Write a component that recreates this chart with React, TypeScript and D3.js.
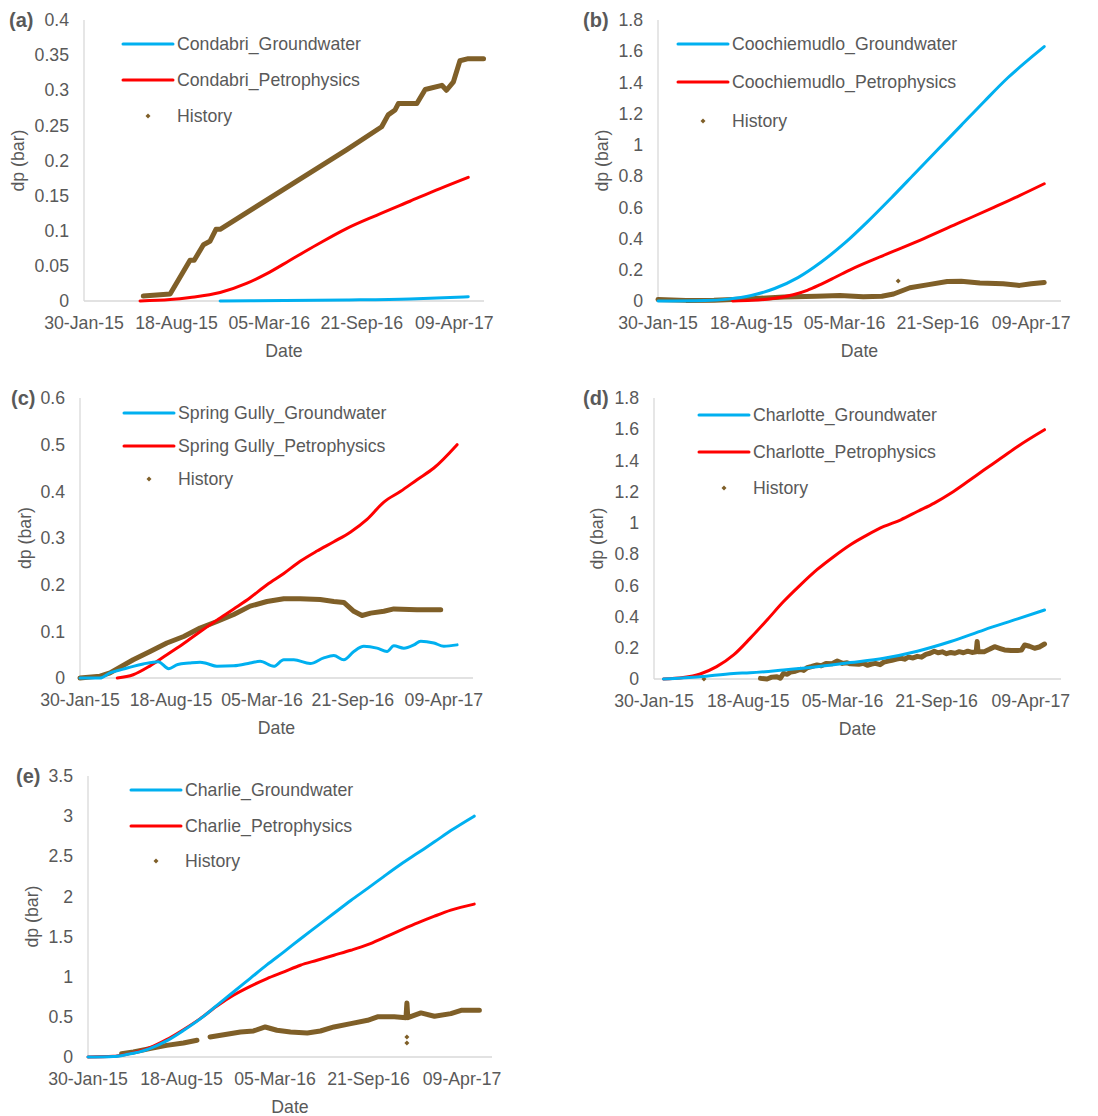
import React from "react";
import * as d3 from "d3";

type P = [number, number]; // [days since 30-Jan-15, dp (bar)]

const START_DATE = "2015-01-30";
const AXIS_DAYS = 864;
const TICK_DAYS = [0, 200, 400, 600, 800];

// (a) Condabri
const condabriGroundwater: P[] = [[294, 0], [567, 0.0015], [704, 0.003], [830, 0.006]];
const condabriPetrophysics: P[] = [[121, 0], [186, 0.002], [229, 0.005], [294, 0.012], [351, 0.025], [395, 0.039], [445, 0.058], [503, 0.08], [567, 0.103], [632, 0.122], [704, 0.142], [769, 0.16], [830, 0.176]];
const condabriHistory: P[] = [[128, 0.007], [186, 0.01], [229, 0.058], [238, 0.058], [258, 0.08], [272, 0.085], [285, 0.102], [294, 0.102], [567, 0.215], [643, 0.248], [657, 0.265], [672, 0.272], [679, 0.281], [719, 0.281], [737, 0.301], [773, 0.307], [783, 0.3], [798, 0.312], [812, 0.342], [830, 0.345], [863, 0.345]];

// (b) Coochiemudlo
const coochiemudloGroundwater: P[] = [[0, 0], [100, 0.003], [150, 0.012], [200, 0.035], [250, 0.08], [300, 0.15], [350, 0.25], [400, 0.37], [450, 0.51], [500, 0.66], [550, 0.815], [600, 0.97], [650, 1.125], [700, 1.28], [750, 1.43], [800, 1.56], [828, 1.63]];
const coochiemudloPetrophysics: P[] = [[160, 0], [200, 0.004], [250, 0.017], [290, 0.04], [320, 0.068], [348, 0.105], [380, 0.152], [412, 0.2], [490, 0.3], [570, 0.4], [645, 0.5], [720, 0.6], [775, 0.675], [828, 0.751]];
const coochiemudloHistory: P[] = [[0, 0.01], [60, 0.004], [120, 0.005], [200, 0.015], [270, 0.025], [340, 0.03], [390, 0.035], [440, 0.028], [480, 0.03], [505, 0.045], [540, 0.085], [580, 0.105], [620, 0.125], [650, 0.127], [690, 0.115], [740, 0.11], [775, 0.1], [800, 0.11], [828, 0.118]];
const coochiemudloOutliers: P[] = [[515, 0.128]];

// (c) Spring Gully
const springGullyGroundwater: P[] = [[0, 0], [44, 0], [66, 0.011], [95, 0.019], [117, 0.025], [139, 0.03], [172, 0.035], [195, 0.02], [215, 0.029], [240, 0.032], [264, 0.034], [279, 0.031], [301, 0.025], [338, 0.026], [374, 0.032], [396, 0.036], [426, 0.025], [448, 0.039], [470, 0.039], [506, 0.031], [536, 0.043], [558, 0.048], [580, 0.039], [602, 0.057], [624, 0.068], [653, 0.064], [675, 0.057], [690, 0.069], [712, 0.064], [734, 0.071], [749, 0.079], [778, 0.075], [800, 0.068], [829, 0.071]];
const springGullyPetrophysics: P[] = [[82, 0], [117, 0.007], [154, 0.026], [191, 0.05], [228, 0.074], [264, 0.099], [301, 0.124], [338, 0.148], [374, 0.172], [411, 0.2], [448, 0.224], [484, 0.25], [521, 0.272], [558, 0.292], [595, 0.313], [631, 0.34], [668, 0.377], [705, 0.4], [741, 0.425], [778, 0.45], [829, 0.5]];
const springGullyHistory: P[] = [[0, 0], [44, 0.004], [66, 0.011], [117, 0.039], [154, 0.057], [191, 0.075], [228, 0.089], [264, 0.107], [301, 0.121], [338, 0.136], [374, 0.154], [411, 0.164], [448, 0.17], [484, 0.17], [528, 0.168], [558, 0.164], [580, 0.162], [602, 0.143], [620, 0.134], [639, 0.139], [668, 0.143], [690, 0.148], [741, 0.146], [793, 0.146]];

// (d) Charlotte
const charlotteGroundwater: P[] = [[20, 0], [98, 0.015], [169, 0.036], [204, 0.04], [275, 0.058], [346, 0.079], [417, 0.105], [488, 0.133], [559, 0.178], [630, 0.24], [701, 0.315], [772, 0.385], [829, 0.442]];
const charlottePetrophysics: P[] = [[20, 0], [62, 0.009], [98, 0.032], [133, 0.079], [169, 0.154], [204, 0.26], [240, 0.378], [275, 0.496], [311, 0.603], [346, 0.7], [382, 0.785], [417, 0.86], [453, 0.923], [488, 0.977], [524, 1.02], [559, 1.073], [595, 1.127], [630, 1.19], [666, 1.265], [701, 1.34], [737, 1.415], [772, 1.49], [829, 1.597]];
const charlotteHistory: P[] = [[226, 0.004], [240, 0.0], [250, 0.012], [261, 0.015], [268, 0.005], [275, 0.036], [283, 0.03], [290, 0.045], [300, 0.05], [311, 0.062], [318, 0.055], [325, 0.072], [335, 0.08], [346, 0.09], [355, 0.085], [365, 0.1], [378, 0.098], [389, 0.115], [400, 0.1], [410, 0.104], [417, 0.097], [435, 0.095], [445, 0.1], [453, 0.088], [462, 0.096], [470, 0.1], [480, 0.092], [488, 0.108], [497, 0.115], [505, 0.12], [515, 0.128], [524, 0.133], [532, 0.127], [540, 0.14], [550, 0.135], [559, 0.145], [568, 0.14], [577, 0.158], [586, 0.165], [595, 0.178], [603, 0.168], [612, 0.174], [621, 0.162], [630, 0.17], [639, 0.165], [648, 0.175], [657, 0.168], [666, 0.178], [675, 0.17], [684, 0.175], [686, 0.24], [688, 0.175], [701, 0.175], [712, 0.19], [723, 0.207], [735, 0.195], [744, 0.186], [758, 0.183], [772, 0.182], [780, 0.185], [787, 0.218], [797, 0.21], [808, 0.197], [818, 0.205], [829, 0.224]];
const charlotteOutliers: P[] = [[106, 0.0]];

// (e) Charlie
const charlieGroundwater: P[] = [[0, 0], [54, 0.006], [82, 0.03], [132, 0.105], [168, 0.2], [204, 0.33], [240, 0.475], [275, 0.64], [311, 0.81], [347, 0.98], [383, 1.15], [419, 1.31], [454, 1.47], [490, 1.63], [526, 1.79], [562, 1.95], [598, 2.1], [633, 2.25], [669, 2.4], [705, 2.54], [741, 2.68], [776, 2.82], [826, 3.0]];
const charliePetrophysics: P[] = [[0, 0], [54, 0.008], [82, 0.033], [132, 0.116], [168, 0.216], [204, 0.34], [240, 0.478], [275, 0.632], [311, 0.769], [347, 0.88], [383, 0.977], [419, 1.06], [454, 1.143], [490, 1.205], [526, 1.268], [562, 1.33], [598, 1.4], [633, 1.488], [669, 1.58], [705, 1.67], [741, 1.754], [776, 1.829], [826, 1.904]];
const charlieHistoryEarly: P[] = [[72, 0.042], [97, 0.062], [132, 0.104], [168, 0.145], [204, 0.175], [233, 0.208]];
const charlieHistoryLate: P[] = [[261, 0.25], [297, 0.283], [326, 0.312], [354, 0.324], [379, 0.374], [404, 0.333], [433, 0.312], [469, 0.3], [497, 0.324], [526, 0.374], [562, 0.416], [598, 0.457], [619, 0.5], [655, 0.5], [680, 0.49], [682, 0.673], [684, 0.49], [712, 0.549], [741, 0.507], [776, 0.54], [798, 0.582], [837, 0.582]];
const charlieOutliers: P[] = [[682, 0.25], [682, 0.175]];

const BLUE = "#00b0f0";
const RED = "#ff0000";
const BROWN = "#7f5f28";
const TEXT = "#595959";
const AXIS = "#d9d9d9";
const FONT = "'Liberation Sans', Arial, sans-serif";

type Panel = {
  tag: string; name: string; yMax: number; yStep: number;
  x0: number; x1: number; yTop: number; yZero: number;
  tagX: number; titleX: number;
  legX: number; legY: number[];
  gw: P[]; pet: P[]; hist: P[][]; outliers: P[];
};

const panels: Panel[] = [
  { tag: "(a)", name: "Condabri", yMax: 0.4, yStep: 0.05, x0: 84, x1: 484, yTop: 20, yZero: 301, tagX: 9, titleX: 18, legX: 123, legY: [44, 80, 116], gw: condabriGroundwater, pet: condabriPetrophysics, hist: [condabriHistory], outliers: [] },
  { tag: "(b)", name: "Coochiemudlo", yMax: 1.8, yStep: 0.2, x0: 658, x1: 1061, yTop: 20, yZero: 301, tagX: 583, titleX: 602, legX: 678, legY: [44, 82, 121], gw: coochiemudloGroundwater, pet: coochiemudloPetrophysics, hist: [coochiemudloHistory], outliers: coochiemudloOutliers },
  { tag: "(c)", name: "Spring Gully", yMax: 0.6, yStep: 0.1, x0: 80, x1: 473, yTop: 398, yZero: 678, tagX: 11, titleX: 25, legX: 124, legY: [413, 446, 479], gw: springGullyGroundwater, pet: springGullyPetrophysics, hist: [springGullyHistory], outliers: [] },
  { tag: "(d)", name: "Charlotte", yMax: 1.8, yStep: 0.2, x0: 654, x1: 1061, yTop: 398, yZero: 679, tagX: 583, titleX: 597, legX: 699, legY: [415, 452, 488], gw: charlotteGroundwater, pet: charlottePetrophysics, hist: [charlotteHistory], outliers: charlotteOutliers },
  { tag: "(e)", name: "Charlie", yMax: 3.5, yStep: 0.5, x0: 88, x1: 492, yTop: 776, yZero: 1057, tagX: 16, titleX: 32, legX: 131, legY: [790, 826, 861], gw: charlieGroundwater, pet: charliePetrophysics, hist: [charlieHistoryEarly, charlieHistoryLate], outliers: charlieOutliers },
];

const start = d3.timeParse("%Y-%m-%d")(START_DATE) as Date;
const toDate = (days: number) => d3.timeDay.offset(start, days);
const fmtDate = d3.timeFormat("%d-%b-%y");
const fmtVal = d3.format("~g");

function Diamond({ cx, cy, r }: { cx: number; cy: number; r: number }) {
  return <path d={`M${cx},${cy - r}L${cx + r},${cy}L${cx},${cy + r}L${cx - r},${cy}Z`} fill={BROWN} />;
}

function ChartPanel({ p }: { p: Panel }) {
  const x = d3.scaleTime().domain([start, toDate(AXIS_DAYS)]).range([p.x0, p.x1]);
  const y = d3.scaleLinear().domain([0, p.yMax]).range([p.yZero, p.yTop]);
  const smooth = d3.line<P>().x(d => x(toDate(d[0]))).y(d => y(d[1])).curve(d3.curveMonotoneX);
  const jag = d3.line<P>().x(d => x(toDate(d[0]))).y(d => y(d[1]));
  const yTicks = d3.range(0, p.yMax + p.yStep / 2, p.yStep);
  const midY = (p.yTop + p.yZero) / 2;
  const midX = (p.x0 + p.x1) / 2;
  const fs = 17.7;
  const lx = p.legX;
  return (
    <g fontFamily={FONT} fill={TEXT}>
      <text x={p.tagX} y={p.yTop} dy="0.35em" fontSize={20} fontWeight="bold">{p.tag}</text>
      {yTicks.map((t, i) => (
        <text key={i} x={p.x0 - 15} y={y(t)} dy="0.35em" textAnchor="end" fontSize={fs}>{fmtVal(t)}</text>
      ))}
      {TICK_DAYS.map((d, i) => (
        <text key={i} x={x(toDate(d))} y={p.yZero + 22} dy="0.35em" textAnchor="middle" fontSize={fs}>{fmtDate(toDate(d))}</text>
      ))}
      <text x={midX} y={p.yZero + 50} dy="0.35em" textAnchor="middle" fontSize={fs}>Date</text>
      <text transform={`translate(${p.titleX},${midY}) rotate(-90)`} dy="0.35em" textAnchor="middle" fontSize={fs}>dp (bar)</text>
      <line x1={p.x0} x2={p.x0} y1={p.yTop} y2={p.yZero} stroke={AXIS} strokeWidth={1.3} />
      <line x1={p.x0} x2={p.x1} y1={p.yZero} y2={p.yZero} stroke={AXIS} strokeWidth={1.3} />
      {p.hist.map((h, i) => (
        <path key={i} d={jag(h) || ""} fill="none" stroke={BROWN} strokeWidth={5} strokeLinejoin="round" strokeLinecap="round" />
      ))}
      {p.outliers.map((o, i) => (
        <Diamond key={i} cx={x(toDate(o[0]))} cy={y(o[1])} r={2.5} />
      ))}
      <path d={smooth(p.pet) || ""} fill="none" stroke={RED} strokeWidth={3} strokeLinecap="round" />
      <path d={smooth(p.gw) || ""} fill="none" stroke={BLUE} strokeWidth={3} strokeLinecap="round" />
      <line x1={lx} x2={lx + 50} y1={p.legY[0]} y2={p.legY[0]} stroke={BLUE} strokeWidth={3} strokeLinecap="round" />
      <text x={lx + 54} y={p.legY[0]} dy="0.35em" fontSize={fs}>{p.name}_Groundwater</text>
      <line x1={lx} x2={lx + 50} y1={p.legY[1]} y2={p.legY[1]} stroke={RED} strokeWidth={3} strokeLinecap="round" />
      <text x={lx + 54} y={p.legY[1]} dy="0.35em" fontSize={fs}>{p.name}_Petrophysics</text>
      <Diamond cx={lx + 25} cy={p.legY[2]} r={2.5} />
      <text x={lx + 54} y={p.legY[2]} dy="0.35em" fontSize={fs}>History</text>
    </g>
  );
}

export default function App() {
  return (
    <svg width={1098} height={1116} style={{ position: "absolute", left: 0, top: 0, background: "#fff" }}>
      <rect width={1098} height={1116} fill="#fff" />
      {panels.map(p => <ChartPanel key={p.tag} p={p} />)}
    </svg>
  );
}
